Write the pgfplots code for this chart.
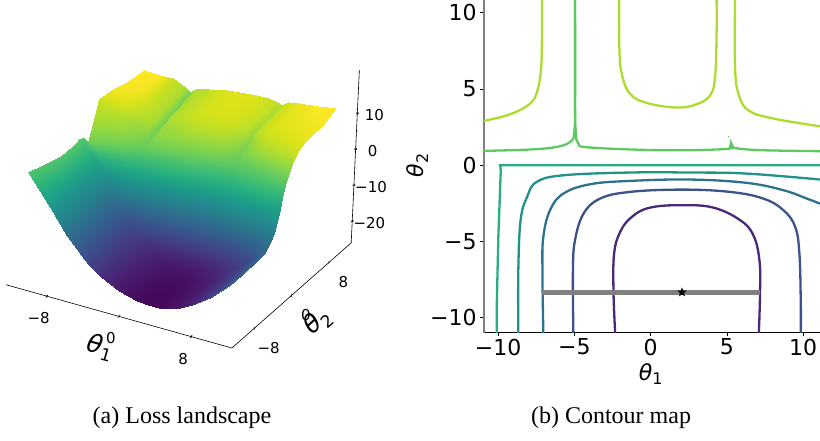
\documentclass[border=0pt]{standalone}
\usepackage{pgfplots}
\usepackage{fontspec}
\pgfplotsset{compat=1.18}
\setmainfont{DejaVu Sans}
\newfontfamily\capfont{Liberation Serif}
\definecolor{lA}{HTML}{482878}
\definecolor{lB}{HTML}{3B528B}
\definecolor{lC}{HTML}{2C728E}
\definecolor{lD}{HTML}{21918C}
\definecolor{lE}{HTML}{28AE80}
\definecolor{lF}{HTML}{5EC962}
\definecolor{lG}{HTML}{ADDC30}
\newcommand{\thlab}[3]{\fontsize{#1}{#1}\selectfont{\itshape θ}\raisebox{-.2em}{\fontsize{#2}{#2}\selectfont #3}}
\pgfdeclareplotmark{fstar}{%
  \pgfpathmoveto{\pgfqpointpolar{90}{1\pgfplotmarksize}}%
  \pgfpathlineto{\pgfqpointpolar{126}{.42\pgfplotmarksize}}%
  \pgfpathlineto{\pgfqpointpolar{162}{1\pgfplotmarksize}}%
  \pgfpathlineto{\pgfqpointpolar{198}{.42\pgfplotmarksize}}%
  \pgfpathlineto{\pgfqpointpolar{234}{1\pgfplotmarksize}}%
  \pgfpathlineto{\pgfqpointpolar{270}{.42\pgfplotmarksize}}%
  \pgfpathlineto{\pgfqpointpolar{306}{1\pgfplotmarksize}}%
  \pgfpathlineto{\pgfqpointpolar{342}{.42\pgfplotmarksize}}%
  \pgfpathlineto{\pgfqpointpolar{18}{1\pgfplotmarksize}}%
  \pgfpathlineto{\pgfqpointpolar{54}{.42\pgfplotmarksize}}%
  \pgfpathclose\pgfusepathqfill}
\begin{document}
\begin{tikzpicture}[x=1pt,y=1pt]
\path[use as bounding box] (0,0) rectangle (820pt,440pt);
\begin{axis}[
  at={(183.1pt,269.8pt)},anchor=origin,
  x={(9.03pt,-2.53pt)},y={(4.66pt,4.11pt)},z={(0.17pt,3.6pt)},
  xmin=-12.5,xmax=12.5,ymin=-12.8,ymax=12.8,zmin=-26,zmax=22,
  clip=false,
  axis x line*=bottom,axis y line*=left,axis z line*=right,
  axis line style={black,line width=.6pt},
  xtick={-8,0,8},ytick={-8,0,8},ztick={-20,-10,0,10},
  xticklabels={−8,0,8},yticklabels={−8,0,8},zticklabels={−20,−10,0,10},
  tick align=center,major tick length=3pt,
  tick style={black,line width=.5pt},
  tick label style={font=\fontsize{15}{15}\selectfont,anchor=center},
  xticklabel style={xshift=-7pt,yshift=-21pt},
  yticklabel style={xshift=13pt,yshift=-19pt},
  zticklabel style={xshift=16pt,yshift=-3pt},
  xlabel={\thlab{25}{17}{1}},ylabel={\thlab{25}{17}{2}},
  every axis x label/.style={at={(axis cs:1.3,-19.4,-26)},anchor=center,rotate=-15.6},
  every axis y label/.style={at={(axis cs:17.25,-3.54,-26)},anchor=center,rotate=41.7},
  colormap/viridis,point meta min=-24,point meta max=13,
]
\addplot3[surf,shader=interp,z buffer=sort,mesh/rows=17,mesh/cols=17,point meta=\thisrow{t}]
 table[row sep=\\,x=x,y=y,z=z]{
x y z t\\
-11.6 -11 4 2.9\\ -9 -11 -3.9 -4.4\\ -7 -11 -10.6 -10.6\\ -5.6 -11 -14.2 -14.2\\ -5 -11 -15.5 -15.5\\ -4.4 -11 -16.8 -16.8\\ -3 -11 -19.3 -19.3\\ -1 -11 -21.8 -21.8\\ 1 -11 -23.2 -23.2\\ 2.25 -11 -23.4 -23.4\\ 3.5 -11 -23.2 -23.2\\ 4.5 -11 -22.6 -22.6\\ 5.1 -11 -22.2 -22.2\\ 5.7 -11 -21.6 -21.6\\ 7 -11 -20 -20\\ 9 -11 -16.6 -16.6\\ 11 -11 -11.9 -11.9\\
-11.2 -8 3 2.9\\ -9 -8 -4.4 -4.4\\ -7 -8 -10.6 -10.6\\ -5.6 -8 -14.2 -14.2\\ -5 -8 -15.5 -15.5\\ -4.4 -8 -16.7 -16.7\\ -3 -8 -19.2 -19.2\\ -1 -8 -21.7 -21.7\\ 1 -8 -23.1 -23.1\\ 2.25 -8 -23.3 -23.3\\ 3.5 -8 -23.1 -23.1\\ 4.5 -8 -22.5 -22.5\\ 5.1 -8 -22.1 -22.1\\ 5.7 -8 -21.5 -21.5\\ 7 -8 -19.9 -19.9\\ 9 -8 -16.6 -16.6\\ 11 -8 -11.9 -11.9\\
-11 -5 2 3\\ -9 -5 -4.8 -4.3\\ -7 -5 -10.7 -10.5\\ -5.6 -5 -14 -14\\ -5 -5 -15.3 -15.3\\ -4.4 -5 -16.5 -16.5\\ -3 -5 -18.8 -18.8\\ -1 -5 -21.2 -21.2\\ 1 -5 -22.6 -22.6\\ 2.25 -5 -22.8 -22.8\\ 3.5 -5 -22.6 -22.6\\ 4.5 -5 -22 -22\\ 5.1 -5 -21.6 -21.6\\ 5.7 -5 -21 -21\\ 7 -5 -19.5 -19.5\\ 9 -5 -16.3 -16.3\\ 11 -5 -11.7 -11.7\\
-11 -3.5 1.8 3.1\\ -9 -3.5 -4.8 -4.2\\ -7 -3.5 -10.7 -10.4\\ -5.6 -3.5 -14.1 -13.9\\ -5 -3.5 -15.1 -15.1\\ -4.4 -3.5 -16.3 -16.3\\ -3 -3.5 -18.3 -18.3\\ -1 -3.5 -20.4 -20.4\\ 1 -3.5 -21.6 -21.6\\ 2.25 -3.5 -21.8 -21.8\\ 3.5 -3.5 -21.6 -21.6\\ 4.5 -3.5 -21 -21\\ 5.1 -3.5 -20.7 -20.7\\ 5.7 -3.5 -20.2 -20.2\\ 7 -3.5 -18.8 -18.8\\ 9 -3.5 -16 -16\\ 11 -3.5 -11.5 -11.5\\
-11 -2.6 1.8 3.2\\ -9 -2.6 -4.9 -4.1\\ -7 -2.6 -10.8 -10.3\\ -5.6 -2.6 -14.1 -13.7\\ -5 -2.6 -15.2 -14.9\\ -4.4 -2.6 -16.2 -16\\ -3 -2.6 -17.7 -17.6\\ -1 -2.6 -19 -19\\ 1 -2.6 -19.9 -19.9\\ 2.25 -2.6 -20 -20\\ 3.5 -2.6 -19.9 -19.9\\ 4.5 -2.6 -19.6 -19.6\\ 5.1 -2.6 -19.3 -19.3\\ 5.7 -2.6 -19 -19\\ 7 -2.6 -17.8 -17.8\\ 9 -2.6 -15.6 -15.6\\ 11 -2.6 -10.2 -10.2\\
-11 -1.6 2 3.3\\ -9 -1.6 -4.9 -3.9\\ -7 -1.6 -10.7 -9.9\\ -5.6 -1.6 -13.5 -12.8\\ -5 -1.6 -14.1 -13.5\\ -4.4 -1.6 -14.6 -14\\ -3 -1.6 -15.1 -14.6\\ -1 -1.6 -15.2 -14.9\\ 1 -1.6 -15.2 -15\\ 2.25 -1.6 -15 -15\\ 3.5 -1.6 -15 -15\\ 4.5 -1.6 -15 -15\\ 5.1 -1.6 -14.9 -14.9\\ 5.7 -1.6 -14.8 -14.8\\ 7 -1.6 -14.2 -14.2\\ 9 -1.6 -12 -12\\ 11 -1.6 -8 -8\\
-11 -1 2 3.4\\ -9 -1 -5.4 -4.2\\ -7 -1 -9.2 -8\\ -5.6 -1 -10.7 -9.6\\ -5 -1 -10.8 -9.8\\ -4.4 -1 -10.9 -9.9\\ -3 -1 -10.8 -10\\ -1 -1 -10.5 -10\\ 1 -1 -10.3 -10\\ 2.25 -1 -10.1 -10\\ 3.5 -1 -10 -10\\ 4.5 -1 -10 -10\\ 5.1 -1 -10 -10\\ 5.7 -1 -10 -10\\ 7 -1 -9.9 -9.9\\ 9 -1 -8.5 -8.5\\ 11 -1 -5.5 -5.5\\
-11 -.5 1.8 3.5\\ -9 -.5 -4.4 -3\\ -7 -.5 -6.3 -4.5\\ -5.6 -.5 -6.6 -5\\ -5 -.5 -6.5 -5\\ -4.4 -.5 -6.4 -5\\ -3 -.5 -6.2 -5\\ -1 -.5 -5.8 -5\\ 1 -.5 -5.5 -5\\ 2.25 -.5 -5.2 -5\\ 3.5 -.5 -5 -5\\ 4.5 -.5 -5 -5\\ 5.1 -.5 -5 -5\\ 5.7 -.5 -5 -5\\ 7 -.5 -5 -5\\ 9 -.5 -4.7 -4.7\\ 11 -.5 -2.5 -2.5\\
-11 0 1.2 3.6\\ -9 0 -2.6 0\\ -7 0 -2.4 0\\ -5.6 0 -2.1 0\\ -5 0 -2 0\\ -4.4 0 -1.9 0\\ -3 0 -1.6 0\\ -1 0 -1.1 0\\ 1 0 -.7 0\\ 2.25 0 -.3 0\\ 3.5 0 0 0\\ 4.5 0 .3 0\\ 5.1 0 .4 0\\ 5.7 0 .4 0\\ 7 0 .3 0\\ 9 0 .1 0\\ 11 0 0 0\\
-11 .5 -.8 4.2\\ -9 .5 -.8 3.2\\ -7 .5 -.4 3\\ -5.6 .5 .5 3\\ -5 .5 .6 2.9\\ -4.4 .5 .8 3\\ -3 .5 1.2 3\\ -1 .5 1.7 3\\ 1 .5 2.1 3\\ 2.25 .5 2.6 3\\ 3.5 .5 3 3\\ 4.5 .5 3.5 3\\ 5.1 .5 3.6 2.9\\ 5.7 .5 3.6 3\\ 7 .5 3.5 3\\ 9 .5 3.2 3\\ 11 .5 3.1 3.1\\
-11 1 -1 5\\ -9 1 0 5\\ -7 1 1 5\\ -5.6 1 2.1 4.9\\ -5 1 1.9 4.5\\ -4.4 1 2.5 4.9\\ -3 1 3 5\\ -1 1 3.5 5\\ 1 1 4 5\\ 2.25 1 4.5 5\\ 3.5 1 5 5\\ 4.5 1 5.8 5\\ 5.1 1 5.8 4.6\\ 5.7 1 5.9 4.9\\ 7 1 5.8 5\\ 9 1 5.4 5\\ 11 1 5.1 5.1\\
-11 2 4 8.2\\ -9 2 3.6 7.6\\ -7 2 3.5 6.8\\ -5.6 2 2.9 6\\ -5 2 2.5 4.9\\ -4.4 2 3.3 6\\ -3 2 4.9 6.8\\ -1 2 6 7.3\\ 1 2 6.7 7.5\\ 2.25 2 7.2 7.5\\ 3.5 2 7.5 7.3\\ 4.5 2 7.1 6.5\\ 5.1 2 6.3 5.3\\ 5.7 2 7 6.3\\ 7 2 7.5 7.3\\ 9 2 7.7 7.9\\ 11 2 7.9 8.4\\
-11 3 8.7 10.2\\ -9 3 6.3 9.3\\ -7 3 4.8 7.8\\ -5.6 3 3.5 7\\ -5 3 2.8 4.95\\ -4.4 3 3.8 7\\ -3 3 5.8 7.6\\ -1 3 7.4 8.7\\ 1 3 8.2 9\\ 2.25 3 8.6 9\\ 3.5 3 8.7 8.7\\ 4.5 3 7.8 7.4\\ 5.1 3 6.4 5.6\\ 5.7 3 7.5 7\\ 7 3 8.7 8.8\\ 9 3 9.3 9.7\\ 11 3 9.7 10.4\\
-11 4.5 8.3 11.5\\ -9 4.5 6.9 10.9\\ -7 4.5 6.4 9.7\\ -5.6 4.5 4.2 8\\ -5 4.5 3 5\\ -4.4 4.5 4.7 8\\ -3 4.5 7.3 9\\ -1 4.5 8.8 10.2\\ 1 4.5 9.5 10.4\\ 2.25 4.5 9.9 10.4\\ 3.5 4.5 10.2 10.2\\ 4.5 4.5 9.5 9.3\\ 5.1 4.5 7.1 6.5\\ 5.7 4.5 9.6 9.2\\ 7 4.5 10.2 10.5\\ 9 4.5 10.3 11\\ 11 4.5 10.5 11.5\\
-11 6 8 12.5\\ -9 6 7.3 11.8\\ -7 6 6.8 10\\ -5.6 6 5 8.5\\ -5 6 3.6 5.1\\ -4.4 6 5.5 8.5\\ -3 6 7.7 9.3\\ -1 6 9.1 10.6\\ 1 6 9.8 10.8\\ 2.25 6 10.1 10.7\\ 3.5 6 10.3 10.4\\ 4.5 6 9.7 9.7\\ 5.1 6 8 7.5\\ 5.7 6 10.1 9.8\\ 7 6 10.5 11\\ 9 6 10.6 11.6\\ 11 6 10.7 12\\
-10.5 8 8 13.5\\ -8.7 8 7.4 12.4\\ -7 8 7 10\\ -5.6 8 5.5 8.5\\ -5 8 4.2 5.2\\ -4.4 8 6 8.5\\ -3 8 7.8 9.4\\ -1 8 9 10.8\\ 1 8 9.6 11\\ 2.25 8 10.1 10.9\\ 3.5 8 10.3 10.5\\ 4.5 8 9.8 9.8\\ 5.1 8 8.4 8\\ 5.7 8 10.1 10\\ 7 8 10.5 11.2\\ 9 8 10.7 12\\ 11 8 10.9 12.6\\
-10.2 11 8 13.8\\ -8.5 11 8 13\\ -7 11 8 10\\ -5.6 11 6.7 8.5\\ -5 11 5.6 5.4\\ -4.4 11 6.8 8.5\\ -3 11 8 9.4\\ -1 11 9 11\\ 1 11 9.7 11.4\\ 2.25 11 10 11\\ 3.5 11 10 10.2\\ 4.5 11 9.6 9.6\\ 5.1 11 9.2 8.8\\ 5.7 11 10.3 10.2\\ 7 11 11 12\\ 9 11 11.7 13.5\\ 11 11 12.4 14.6\\
};
\end{axis}
\begin{axis}[
  at={(483.7pt,107.3pt)},anchor=south west,
  scale only axis,width=336.3pt,height=332.7pt,
  xmin=-10.95,xmax=11.1,ymin=-10.98,ymax=10.83,
  axis x line*=bottom,axis y line*=left,
  x axis line style={black,line width=1pt,-},
  y axis line style={gray,line width=1.6pt,-},
  xtick={-10,-5,0,5,10},ytick={-10,-5,0,5,10},
  xticklabels={−10,−5,0,5,10},yticklabels={−10,−5,0,5,10},
  tick align=outside,major tick length=3.5pt,
  tick style={black,line width=.8pt},
  tick label style={font=\fontsize{22}{22}\selectfont},
  xticklabel style={yshift=1pt},
  xlabel={\thlab{22}{16}{1}},ylabel={\thlab{22}{16}{2}},
  every axis x label/.style={at={(axis cs:0,-13.7)},anchor=center},
  every axis y label/.style={at={(axis cs:-15.3,0)},anchor=center,rotate=90},
]
\pgfplotsset{cl/.style={line width=2.3pt,smooth,tension=.65,no marks}}
\addplot[lA,cl] coordinates {(-2.33,-11)(-2.44,-8.3)(-2.4,-5.8)(-2,-4.37)(-1.24,-3.39)(-.04,-2.78)(2.04,-2.62)(4.11,-2.78)(5.86,-3.6)(6.73,-4.59)(7.13,-6.23)(7.17,-8.3)(7.09,-11)};
\addplot[lB,cl] coordinates {(-5.07,-11)(-5.1,-6.9)(-4.96,-4.9)(-4.4,-3.17)(-3.32,-2.19)(-1.36,-1.75)(2.04,-1.6)(5.2,-1.75)(7.39,-2.19)(8.7,-2.95)(9.47,-4.04)(9.75,-5.8)(9.84,-9.07)(9.84,-11)};
\addplot[lC,cl] coordinates {(-7.04,-11)(-7.1,-6.9)(-7.04,-4.7)(-6.6,-2.95)(-5.72,-1.86)(-3.98,-1.25)(-1.36,-1.03)(2.6,-.94)(6.3,-1.16)(8.7,-1.64)(10.24,-2.19)(11.1,-2.52)};
\addplot[lD,cl] coordinates {(-8.68,-11)(-8.68,-6.9)(-8.53,-3.6)(-8.1,-2.07)(-7.47,-1.09)(-5.72,-.66)(-1.36,-.48)(2.6,-.48)(6.3,-.55)(11.1,-.94)};
\addplot[lE,line width=2.3pt,no marks] coordinates {(-10.09,-11)(-10.09,-9)(-9.99,-4.7)(-9.83,-.33)(-9.87,0)(11.1,0)};
\addplot[lF,cl] coordinates {(-10.95,.94)(-7.9,1.03)(-6.16,1.2)(-5.28,1.53)(-5.02,2.08)(-4.96,4)(-4.96,10.83)};
\addplot[lF,cl] coordinates {(-4.96,10.83)(-4.96,4)(-4.9,2.08)(-4.74,1.42)(-3.97,1.16)(.83,.98)(4.77,1.05)(5.2,1.2)(5.27,1.46)(5.4,1.2)(5.75,1.09)(7.39,.98)(11.1,.92)};
\addplot[lF,line width=1.5pt,no marks] coordinates {(5.08,1.86)(5.12,1.9)};
\addplot[lG,cl] coordinates {(-10.95,2.9)(-9.22,3.34)(-7.91,4.04)(-7.42,4.92)(-7.18,6.45)(-7.13,8.64)(-7.13,10.83)};
\addplot[lG,cl] coordinates {(-2.07,10.83)(-2.05,7.54)(-1.9,6)(-1.38,4.7)(-.29,4.09)(1.68,3.78)(3.02,4)(3.9,4.59)(4.22,5.79)(4.32,8.64)(4.32,10.83)};
\addplot[lG,cl] coordinates {(5.53,10.83)(5.53,6.45)(5.75,4.7)(6.4,3.6)(8.04,3.06)(11.1,2.55)};
\addplot[gray,line width=4.6pt,no marks] coordinates {(-7.1,-8.33)(7.15,-8.33)};
\addplot[only marks,black,mark=fstar,mark size=5pt] coordinates {(2.05,-8.33)};
\end{axis}
\node[anchor=center,font=\fontsize{24}{24}\selectfont\capfont] at (182pt,22pt) {(a) Loss landscape};
\node[anchor=center,font=\fontsize{24}{24}\selectfont\capfont] at (611pt,22pt) {(b) Contour map};
\end{tikzpicture}
\end{document}
